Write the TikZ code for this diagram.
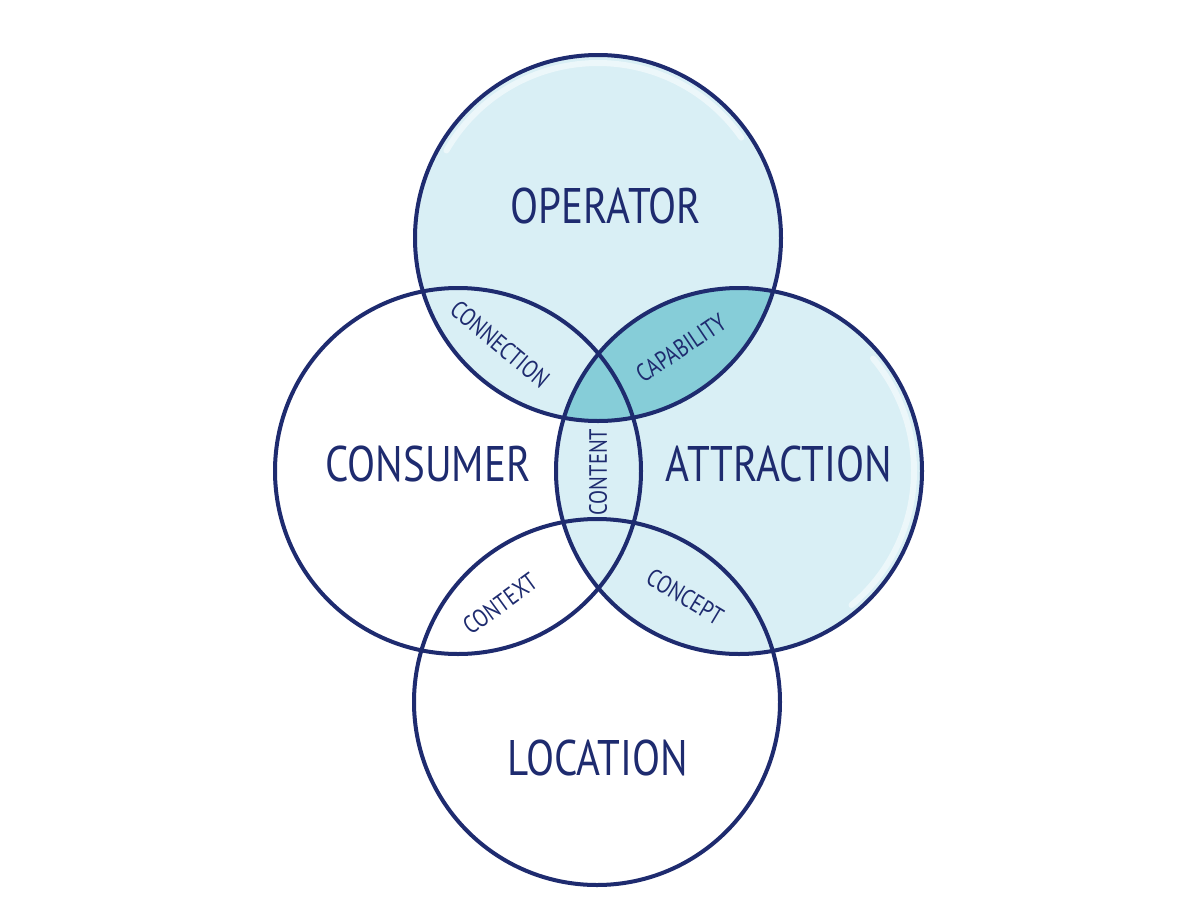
\documentclass[tikz,border=0pt]{standalone}
\usepackage{fontspec}
\setmainfont{PT Sans}
\newfontfamily\hand[FakeStretch=0.82]{PT Sans}
\definecolor{lineblue}{HTML}{1E2B6F}
\definecolor{lightfill}{HTML}{D9EFF5}
\definecolor{darkfill}{HTML}{86CDD8}
\tikzset{
  ring/.style={circle, draw=lineblue, line width=4pt, inner sep=0pt, minimum size=366pt},
  biglabel/.style={text=lineblue, font=\hand\fontsize{50}{50}\selectfont, inner sep=0pt},
  smalllabel/.style={text=lineblue, font=\hand\fontsize{25}{25}\selectfont, inner sep=0pt},
  gloss/.style={white, opacity=0.5, line width=6pt, line cap=round}
}
\begin{document}
\begin{tikzpicture}[x=1pt,y=-1pt]
\useasboundingbox (0,0) rectangle (1200,900);
\fill[white] (0,0) rectangle (1200,900);
% fills
\fill[lightfill] (598,238) circle [radius=183pt];
\fill[lightfill] (739,471) circle [radius=183pt];
\begin{scope}
  \clip (598,238) circle [radius=183pt];
  \fill[darkfill] (739,471) circle [radius=183pt];
\end{scope}
% gloss highlights
\draw[gloss] (598,238) ++(35:175pt) arc [start angle=35, end angle=150, radius=175pt];
\draw[gloss] (739,471) ++(-50:175pt) arc [start angle=-50, end angle=40, radius=175pt];
% rings
\node[ring] (op) at (598,238) {};
\node[ring] (co) at (458,471) {};
\node[ring] (at) at (739,471) {};
\node[ring] (lo) at (597,702) {};
% big labels
\node[biglabel] (tOp) at (606,206) {OPERATOR};
\node[biglabel] (tCo) at (428,464) {CONSUMER};
\node[biglabel] (tAt) at (779,464) {ATTRACTION};
\node[biglabel] (tLo) at (598,758) {LOCATION};
% small labels
\node[smalllabel, rotate=-40] (tConn) at (500,344) {CONNECTION};
\node[smalllabel, rotate=34] (tCap) at (681,348) {CAPABILITY};
\node[smalllabel, rotate=90] (tCont) at (598,472) {CONTENT};
\node[smalllabel, rotate=36] (tCtx) at (500,604) {CONTEXT};
\node[smalllabel, rotate=-31] (tCcp) at (685,597) {CONCEPT};
\end{tikzpicture}
\end{document}
